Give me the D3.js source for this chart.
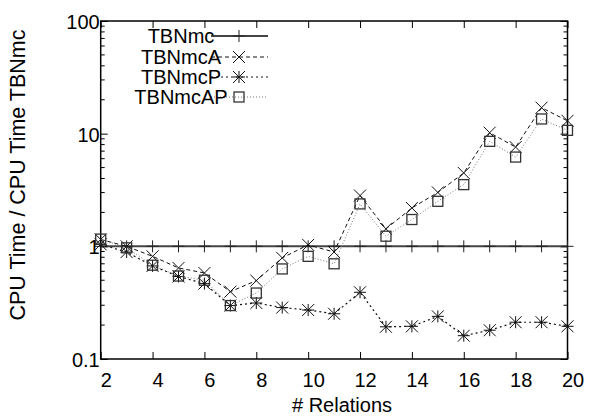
<!DOCTYPE html>
<html>
<head>
<meta charset="utf-8">
<script src="https://cdnjs.cloudflare.com/ajax/libs/d3/7.8.5/d3.min.js"></script>
<style>
  html, body { margin: 0; padding: 0; background: #fff; }
  svg { display: block; }
  text { font-family: "Liberation Sans", Arial, Helvetica, sans-serif; fill: #000; }
</style>
</head>
<body>
<svg id="chart" width="589" height="418"></svg>
<script>
// ---- data ----
const relations = [2, 3, 4, 5, 6, 7, 8, 9, 10, 11, 12, 13, 14, 15, 16, 17, 18, 19, 20];
const tbnMc   = [1, 1, 1, 1, 1, 1, 1, 1, 1, 1, 1, 1, 1, 1, 1, 1, 1, 1, 1];
const tbnMcA  = [1.15, 1.0, 0.815, 0.643, 0.58, 0.396, 0.496, 0.79, 1.03, 0.89, 2.82, 1.43, 2.19, 3.01, 4.48, 10.2, 7.6, 17.0, 13.0];
const tbnMcP  = [1.04, 0.89, 0.67, 0.54, 0.467, 0.298, 0.314, 0.286, 0.272, 0.252, 0.391, 0.193, 0.195, 0.239, 0.161, 0.18, 0.212, 0.212, 0.195];
const tbnMcAP = [1.16, 0.97, 0.68, 0.545, 0.50, 0.298, 0.385, 0.63, 0.815, 0.70, 2.38, 1.23, 1.73, 2.51, 3.53, 8.55, 6.2, 13.5, 10.7];

const xTicks = [2, 4, 6, 8, 10, 12, 14, 16, 18, 20];
const yTicks = [0.1, 1, 10, 100];
const yTickLabels = ['0.1', '1', '10', '100'];

const seriesNames = ['TBNmc', 'TBNmcA', 'TBNmcP', 'TBNmcAP'];
const seriesVals  = [tbnMc, tbnMcA, tbnMcP, tbnMcAP];

// ---- styles per series ----
const styles = [
  { stroke: '#444', width: 2,   dash: null,  marker: 'plus',   mcol: '#222' },
  { stroke: '#111', width: 1,   dash: '4,3', marker: 'cross',  mcol: '#111' },
  { stroke: '#111', width: 1.2, dash: '2,3', marker: 'star',   mcol: '#111' },
  { stroke: '#777', width: 1,   dash: '1,2', marker: 'square', mcol: '#333' }
];

const svg = d3.select('#chart');
const pLeft = 100.7, pRight = 567.5, pTop = 21, pBottom = 359;

const x = d3.scaleLinear().domain([2, 20]).range([pLeft, pRight]);
const y = d3.scaleLog().domain([0.1, 100]).range([pBottom, pTop]);

// minor y ticks (2..9 of each decade) on both sides, inward
const minors = y.ticks().filter(v => !yTicks.some(t => Math.abs(t - v) < 1e-9));
const gMinor = svg.append('g').attr('stroke', '#000').attr('stroke-width', 1);
minors.forEach(v => {
  gMinor.append('line').attr('x1', pLeft).attr('x2', pLeft + 4).attr('y1', y(v)).attr('y2', y(v));
  gMinor.append('line').attr('x1', pRight).attr('x2', pRight - 4).attr('y1', y(v)).attr('y2', y(v));
});

// x axis (bottom) with inward ticks
const xAxis = svg.append('g')
  .attr('transform', `translate(0,${pBottom})`)
  .call(d3.axisBottom(x).tickValues(xTicks).tickSize(-7).tickPadding(14).tickFormat(d3.format('d')));
xAxis.select('.domain').remove();
xAxis.selectAll('text').attr('font-size', 20).attr('dx', 5)
  .attr('font-family', '"Liberation Sans", Arial, sans-serif');

// top mirror ticks
const xTop = svg.append('g')
  .attr('transform', `translate(0,${pTop})`)
  .call(d3.axisTop(x).tickValues(xTicks).tickSize(-7).tickFormat(''));
xTop.select('.domain').remove();

// y axis (left)
const yAxis = svg.append('g')
  .attr('transform', `translate(${pLeft},0)`)
  .call(d3.axisLeft(y).tickValues(yTicks).tickSize(-7).tickPadding(1)
    .tickFormat((d, i) => yTickLabels[i]));
yAxis.select('.domain').remove();
yAxis.selectAll('text').attr('font-size', 20).attr('dy', '0.38em')
  .attr('font-family', '"Liberation Sans", Arial, sans-serif');

const yRight = svg.append('g')
  .attr('transform', `translate(${pRight},0)`)
  .call(d3.axisRight(y).tickValues(yTicks).tickSize(-7).tickFormat(''));
yRight.select('.domain').remove();

svg.selectAll('.tick line').attr('stroke', '#000').attr('stroke-width', 1);

// border
svg.append('rect')
  .attr('x', pLeft).attr('y', pTop)
  .attr('width', pRight - pLeft).attr('height', pBottom - pTop)
  .attr('fill', 'none').attr('stroke', '#000').attr('stroke-width', 1.5);

// marker drawing
function drawMarker(g, type, cx, cy, col) {
  const s = 6;
  const m = g.append('g').attr('stroke', col).attr('stroke-width', 1).attr('fill', 'none');
  if (type === 'plus' || type === 'star') {
    m.append('line').attr('x1', cx - s).attr('x2', cx + s).attr('y1', cy).attr('y2', cy);
    m.append('line').attr('x1', cx).attr('x2', cx).attr('y1', cy - s).attr('y2', cy + s);
  }
  if (type === 'cross' || type === 'star') {
    m.append('line').attr('x1', cx - s).attr('x2', cx + s).attr('y1', cy - s).attr('y2', cy + s);
    m.append('line').attr('x1', cx - s).attr('x2', cx + s).attr('y1', cy + s).attr('y2', cy - s);
  }
  if (type === 'square') {
    m.append('rect').attr('x', cx - 5).attr('y', cy - 5).attr('width', 10).attr('height', 10)
      .attr('stroke-width', 1.3);
  }
}

const line = d3.line().x(d => x(d[0])).y(d => y(d[1]));

seriesVals.forEach((vals, i) => {
  const st = styles[i];
  const pts = relations.map((r, j) => [r, vals[j]]);
  const g = svg.append('g');
  g.append('path')
    .attr('d', line(pts))
    .attr('fill', 'none')
    .attr('stroke', st.stroke)
    .attr('stroke-width', st.width)
    .attr('stroke-dasharray', st.dash);
  pts.forEach(p => drawMarker(g, st.marker, x(p[0]), y(p[1]), st.mcol));
});

// legend
const legLineY = [36, 57, 77, 97];
const gLeg = svg.append('g');
seriesNames.forEach((name, i) => {
  const st = styles[i];
  const ly = legLineY[i];
  gLeg.append('line')
    .attr('x1', 211).attr('x2', 268).attr('y1', ly).attr('y2', ly)
    .attr('stroke', st.stroke).attr('stroke-width', st.width)
    .attr('stroke-dasharray', st.dash);
  drawMarker(gLeg, st.marker, 239, ly, st.mcol);
  gLeg.append('text')
    .attr('x', 181).attr('y', ly + 7)
    .attr('text-anchor', 'middle')
    .attr('font-size', 20)
    .text(name);
});

// axis titles
svg.append('text')
  .attr('x', 342).attr('y', 412)
  .attr('text-anchor', 'middle')
  .attr('font-size', 20)
  .text('# Relations');

svg.append('text')
  .attr('transform', 'translate(25,175) rotate(-90)')
  .attr('text-anchor', 'middle')
  .attr('font-size', 21.5)
  .text('CPU Time / CPU Time TBNmc');
</script>
</body>
</html>
